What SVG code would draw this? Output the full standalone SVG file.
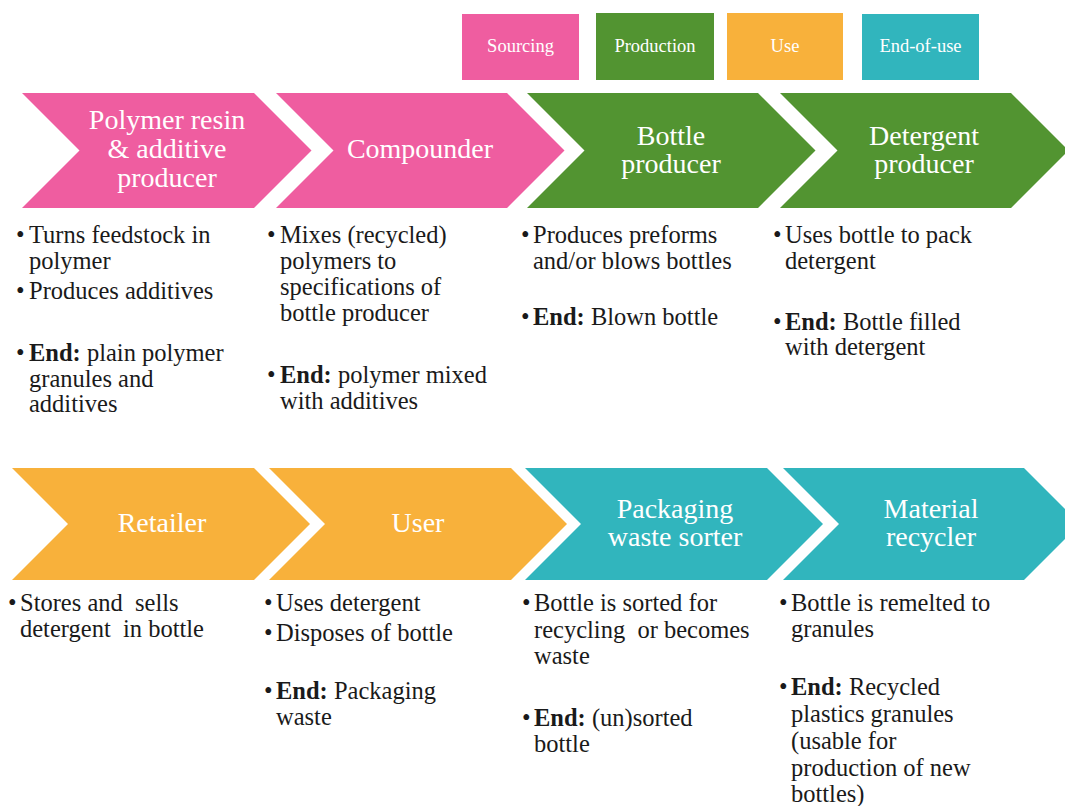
<svg xmlns="http://www.w3.org/2000/svg" width="1065" height="806" viewBox="0 0 1065 806">
<rect width="1065" height="806" fill="#ffffff"/>
<g id="legend">
<g id="leg-sourcing"><rect fill="#EF5DA0" x="462" y="14" width="117" height="66"/><text font-family="Times New Roman, Liberation Serif, serif" font-size="18.5" fill="#ffffff" text-anchor="middle" x="520.5" y="52">Sourcing</text></g>
<g id="leg-production"><rect fill="#529431" x="596" y="13" width="118" height="67"/><text font-family="Times New Roman, Liberation Serif, serif" font-size="18.5" fill="#ffffff" text-anchor="middle" x="655" y="52">Production</text></g>
<g id="leg-use"><rect fill="#F8B13B" x="727" y="13" width="116" height="67"/><text font-family="Times New Roman, Liberation Serif, serif" font-size="18.5" fill="#ffffff" text-anchor="middle" x="785" y="52">Use</text></g>
<g id="leg-endofuse"><rect fill="#31B5BD" x="862" y="14" width="117" height="66"/><text font-family="Times New Roman, Liberation Serif, serif" font-size="18.5" fill="#ffffff" text-anchor="middle" x="920.5" y="52">End-of-use</text></g>
</g>
<g id="connectors"></g>
<g id="n1">
<polygon fill="#EF5DA0" points="22,93 254,93 311.5,150.5 254,208 22,208 79.5,150.5"/>
<text font-family="Times New Roman, Liberation Serif, serif" font-size="28" fill="#ffffff" text-anchor="middle" x="167" y="129">Polymer resin</text>
<text font-family="Times New Roman, Liberation Serif, serif" font-size="28" fill="#ffffff" text-anchor="middle" x="167" y="158">&amp; additive</text>
<text font-family="Times New Roman, Liberation Serif, serif" font-size="28" fill="#ffffff" text-anchor="middle" x="167" y="187">producer</text>
<text font-family="Times New Roman, Liberation Serif, serif" font-size="24.5" fill="#1a1a1a" x="16" y="243">•</text>
<text font-family="Times New Roman, Liberation Serif, serif" font-size="24.5" fill="#1a1a1a" x="29" y="243">Turns feedstock in</text>
<text font-family="Times New Roman, Liberation Serif, serif" font-size="24.5" fill="#1a1a1a" x="29" y="269">polymer</text>
<text font-family="Times New Roman, Liberation Serif, serif" font-size="24.5" fill="#1a1a1a" x="16" y="299">•</text>
<text font-family="Times New Roman, Liberation Serif, serif" font-size="24.5" fill="#1a1a1a" x="29" y="299">Produces additives</text>
<text font-family="Times New Roman, Liberation Serif, serif" font-size="24.5" fill="#1a1a1a" x="16" y="361">•</text>
<text font-family="Times New Roman, Liberation Serif, serif" font-size="24.5" fill="#1a1a1a" x="29" y="361"><tspan font-weight="bold">End:</tspan> plain polymer</text>
<text font-family="Times New Roman, Liberation Serif, serif" font-size="24.5" fill="#1a1a1a" x="29" y="387">granules and</text>
<text font-family="Times New Roman, Liberation Serif, serif" font-size="24.5" fill="#1a1a1a" x="29" y="412">additives</text>
</g>
<g id="n2">
<polygon fill="#EF5DA0" points="276,93 507,93 564.5,150.5 507,208 276,208 333.5,150.5"/>
<text font-family="Times New Roman, Liberation Serif, serif" font-size="28" fill="#ffffff" text-anchor="middle" x="420" y="158">Compounder</text>
<text font-family="Times New Roman, Liberation Serif, serif" font-size="24.5" fill="#1a1a1a" x="267" y="243">•</text>
<text font-family="Times New Roman, Liberation Serif, serif" font-size="24.5" fill="#1a1a1a" x="280" y="243">Mixes (recycled)</text>
<text font-family="Times New Roman, Liberation Serif, serif" font-size="24.5" fill="#1a1a1a" x="280" y="269">polymers to</text>
<text font-family="Times New Roman, Liberation Serif, serif" font-size="24.5" fill="#1a1a1a" x="280" y="295">specifications of</text>
<text font-family="Times New Roman, Liberation Serif, serif" font-size="24.5" fill="#1a1a1a" x="280" y="321">bottle producer</text>
<text font-family="Times New Roman, Liberation Serif, serif" font-size="24.5" fill="#1a1a1a" x="267" y="383">•</text>
<text font-family="Times New Roman, Liberation Serif, serif" font-size="24.5" fill="#1a1a1a" x="280" y="383"><tspan font-weight="bold">End:</tspan> polymer mixed</text>
<text font-family="Times New Roman, Liberation Serif, serif" font-size="24.5" fill="#1a1a1a" x="280" y="409">with additives</text>
</g>
<g id="n3">
<polygon fill="#529431" points="527,93 758,93 815.5,150.5 758,208 527,208 584.5,150.5"/>
<text font-family="Times New Roman, Liberation Serif, serif" font-size="28" fill="#ffffff" text-anchor="middle" x="671" y="145">Bottle</text>
<text font-family="Times New Roman, Liberation Serif, serif" font-size="28" fill="#ffffff" text-anchor="middle" x="671" y="173">producer</text>
<text font-family="Times New Roman, Liberation Serif, serif" font-size="24.5" fill="#1a1a1a" x="521" y="243">•</text>
<text font-family="Times New Roman, Liberation Serif, serif" font-size="24.5" fill="#1a1a1a" x="533" y="243">Produces preforms</text>
<text font-family="Times New Roman, Liberation Serif, serif" font-size="24.5" fill="#1a1a1a" x="533" y="269">and/or blows bottles</text>
<text font-family="Times New Roman, Liberation Serif, serif" font-size="24.5" fill="#1a1a1a" x="521" y="325">•</text>
<text font-family="Times New Roman, Liberation Serif, serif" font-size="24.5" fill="#1a1a1a" x="533" y="325"><tspan font-weight="bold">End:</tspan> Blown bottle</text>
</g>
<g id="n4">
<polygon fill="#529431" points="780,93 1011,93 1068.5,150.5 1011,208 780,208 837.5,150.5"/>
<text font-family="Times New Roman, Liberation Serif, serif" font-size="28" fill="#ffffff" text-anchor="middle" x="924" y="145">Detergent</text>
<text font-family="Times New Roman, Liberation Serif, serif" font-size="28" fill="#ffffff" text-anchor="middle" x="924" y="173">producer</text>
<text font-family="Times New Roman, Liberation Serif, serif" font-size="24.5" fill="#1a1a1a" x="773" y="243">•</text>
<text font-family="Times New Roman, Liberation Serif, serif" font-size="24.5" fill="#1a1a1a" x="785" y="243">Uses bottle to pack</text>
<text font-family="Times New Roman, Liberation Serif, serif" font-size="24.5" fill="#1a1a1a" x="785" y="269">detergent</text>
<text font-family="Times New Roman, Liberation Serif, serif" font-size="24.5" fill="#1a1a1a" x="773" y="330">•</text>
<text font-family="Times New Roman, Liberation Serif, serif" font-size="24.5" fill="#1a1a1a" x="785" y="330"><tspan font-weight="bold">End:</tspan> Bottle filled</text>
<text font-family="Times New Roman, Liberation Serif, serif" font-size="24.5" fill="#1a1a1a" x="785" y="355">with detergent</text>
</g>
<g id="n5">
<polygon fill="#F8B13B" points="12,468 254,468 310,524 254,580 12,580 68,524"/>
<text font-family="Times New Roman, Liberation Serif, serif" font-size="28" fill="#ffffff" text-anchor="middle" x="162" y="532">Retailer</text>
<text font-family="Times New Roman, Liberation Serif, serif" font-size="24.5" fill="#1a1a1a" x="8" y="611">•</text>
<text font-family="Times New Roman, Liberation Serif, serif" font-size="24.5" fill="#1a1a1a" x="20" y="611">Stores and&#160; sells</text>
<text font-family="Times New Roman, Liberation Serif, serif" font-size="24.5" fill="#1a1a1a" x="20" y="637">detergent&#160; in bottle</text>
</g>
<g id="n6">
<polygon fill="#F8B13B" points="269,468 511,468 567,524 511,580 269,580 325,524"/>
<text font-family="Times New Roman, Liberation Serif, serif" font-size="28" fill="#ffffff" text-anchor="middle" x="418" y="532">User</text>
<text font-family="Times New Roman, Liberation Serif, serif" font-size="24.5" fill="#1a1a1a" x="264" y="611">•</text>
<text font-family="Times New Roman, Liberation Serif, serif" font-size="24.5" fill="#1a1a1a" x="276" y="611">Uses detergent</text>
<text font-family="Times New Roman, Liberation Serif, serif" font-size="24.5" fill="#1a1a1a" x="264" y="641">•</text>
<text font-family="Times New Roman, Liberation Serif, serif" font-size="24.5" fill="#1a1a1a" x="276" y="641">Disposes of bottle</text>
<text font-family="Times New Roman, Liberation Serif, serif" font-size="24.5" fill="#1a1a1a" x="264" y="699">•</text>
<text font-family="Times New Roman, Liberation Serif, serif" font-size="24.5" fill="#1a1a1a" x="276" y="699"><tspan font-weight="bold">End:</tspan> Packaging</text>
<text font-family="Times New Roman, Liberation Serif, serif" font-size="24.5" fill="#1a1a1a" x="276" y="725">waste</text>
</g>
<g id="n7">
<polygon fill="#31B5BD" points="525,468 767,468 823,524 767,580 525,580 581,524"/>
<text font-family="Times New Roman, Liberation Serif, serif" font-size="28" fill="#ffffff" text-anchor="middle" x="675" y="518">Packaging</text>
<text font-family="Times New Roman, Liberation Serif, serif" font-size="28" fill="#ffffff" text-anchor="middle" x="675" y="546">waste sorter</text>
<text font-family="Times New Roman, Liberation Serif, serif" font-size="24.5" fill="#1a1a1a" x="522" y="611">•</text>
<text font-family="Times New Roman, Liberation Serif, serif" font-size="24.5" fill="#1a1a1a" x="534" y="611">Bottle is sorted for</text>
<text font-family="Times New Roman, Liberation Serif, serif" font-size="24.5" fill="#1a1a1a" x="534" y="638">recycling&#160; or becomes</text>
<text font-family="Times New Roman, Liberation Serif, serif" font-size="24.5" fill="#1a1a1a" x="534" y="664">waste</text>
<text font-family="Times New Roman, Liberation Serif, serif" font-size="24.5" fill="#1a1a1a" x="522" y="726">•</text>
<text font-family="Times New Roman, Liberation Serif, serif" font-size="24.5" fill="#1a1a1a" x="534" y="726"><tspan font-weight="bold">End:</tspan> (un)sorted</text>
<text font-family="Times New Roman, Liberation Serif, serif" font-size="24.5" fill="#1a1a1a" x="534" y="752">bottle</text>
</g>
<g id="n8">
<polygon fill="#31B5BD" points="783,468 1024,468 1080,524 1024,580 783,580 839,524"/>
<text font-family="Times New Roman, Liberation Serif, serif" font-size="28" fill="#ffffff" text-anchor="middle" x="931" y="518">Material</text>
<text font-family="Times New Roman, Liberation Serif, serif" font-size="28" fill="#ffffff" text-anchor="middle" x="931" y="546">recycler</text>
<text font-family="Times New Roman, Liberation Serif, serif" font-size="24.5" fill="#1a1a1a" x="779" y="611">•</text>
<text font-family="Times New Roman, Liberation Serif, serif" font-size="24.5" fill="#1a1a1a" x="791" y="611">Bottle is remelted to</text>
<text font-family="Times New Roman, Liberation Serif, serif" font-size="24.5" fill="#1a1a1a" x="791" y="637">granules</text>
<text font-family="Times New Roman, Liberation Serif, serif" font-size="24.5" fill="#1a1a1a" x="779" y="695">•</text>
<text font-family="Times New Roman, Liberation Serif, serif" font-size="24.5" fill="#1a1a1a" x="791" y="695"><tspan font-weight="bold">End:</tspan> Recycled</text>
<text font-family="Times New Roman, Liberation Serif, serif" font-size="24.5" fill="#1a1a1a" x="791" y="722">plastics granules</text>
<text font-family="Times New Roman, Liberation Serif, serif" font-size="24.5" fill="#1a1a1a" x="791" y="749">(usable for</text>
<text font-family="Times New Roman, Liberation Serif, serif" font-size="24.5" fill="#1a1a1a" x="791" y="776">production of new</text>
<text font-family="Times New Roman, Liberation Serif, serif" font-size="24.5" fill="#1a1a1a" x="791" y="802">bottles)</text>
</g>
</svg>
